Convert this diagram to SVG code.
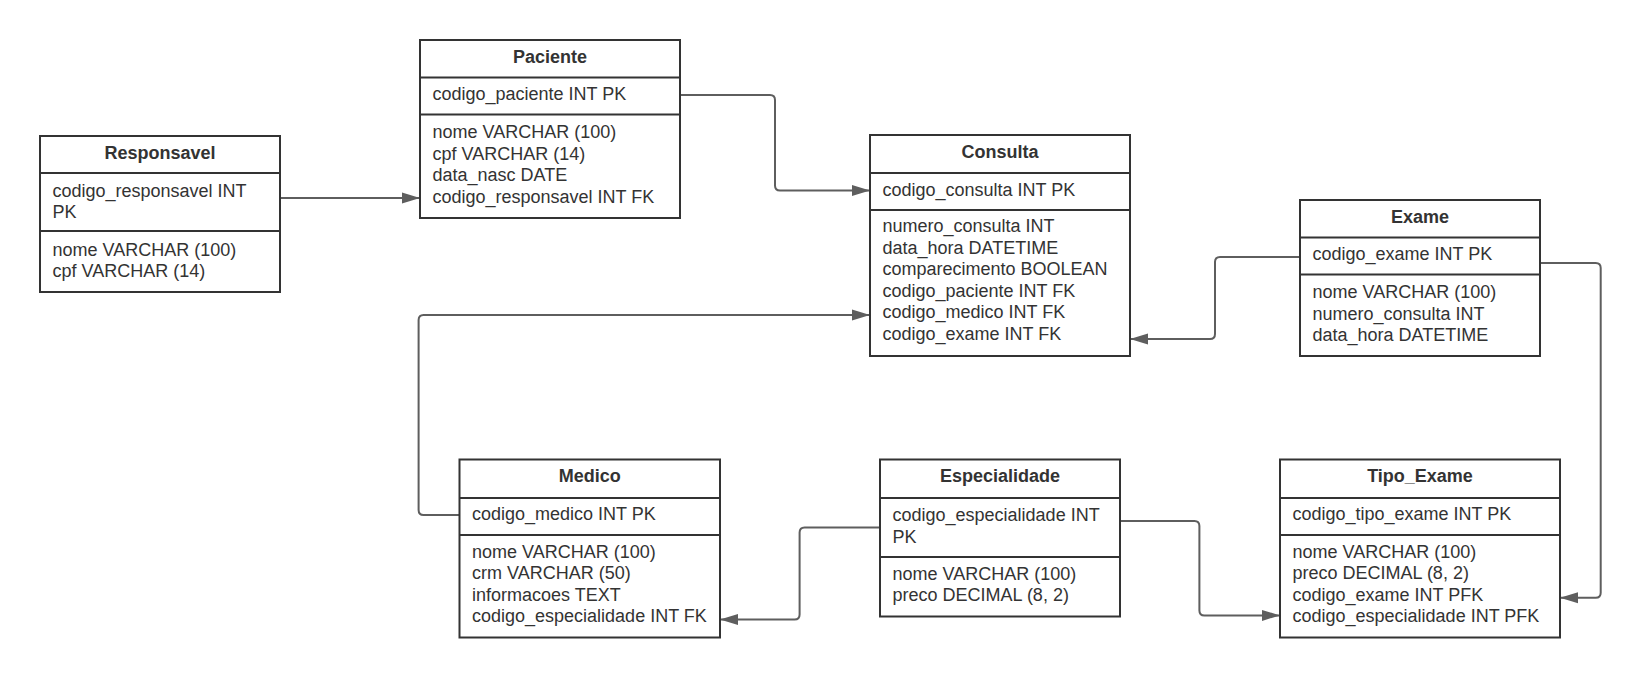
<svg xmlns="http://www.w3.org/2000/svg" width="1641" height="678" viewBox="0 0 1641 678">
  <style>
    .box { fill: #ffffff; stroke: #333333; stroke-width: 2; }
    .sep { stroke: #333333; stroke-width: 2; }
    .title { font-family: "Liberation Sans", Arial, sans-serif; font-size: 18px; font-weight: bold; fill: #333333; text-anchor: middle; }
    .attr { font-family: "Liberation Sans", Arial, sans-serif; font-size: 18px; fill: #333333; }
    .link { fill: none; stroke: #5e5e5e; stroke-width: 2; marker-end: url(#arrow); }
  </style>
  <defs>
    <marker id="arrow" markerUnits="userSpaceOnUse" markerWidth="18" markerHeight="12" refX="18" refY="6" orient="auto">
      <path d="M0,0.5 L18,6 L0,11.5 Z" fill="#5e5e5e"/>
    </marker>
  </defs>
  <rect width="1641" height="678" fill="#ffffff"/>

  <!-- relationships -->
  <g id="connectors">
    <path class="link" d="M280,198 H420"/>
    <path class="link" d="M680,95 H770 Q775,95 775,100 V185.5 Q775,190.5 780,190.5 H870"/>
    <path class="link" d="M1300,257 H1220 Q1215,257 1215,262 V334 Q1215,339 1210,339 H1130"/>
    <path class="link" d="M459.5,515 H423.6 Q418.6,515 418.6,510 V320 Q418.6,315 423.6,315 H870"/>
    <path class="link" d="M880,527.5 H804.6 Q799.6,527.5 799.6,532.5 V614.6 Q799.6,619.6 794.6,619.6 H720"/>
    <path class="link" d="M1120,521 H1194.4 Q1199.4,521 1199.4,526 V610.4 Q1199.4,615.4 1204.4,615.4 H1280"/>
    <path class="link" d="M1540,263 H1595.7 Q1600.7,263 1600.7,268 V592.7 Q1600.7,597.7 1595.7,597.7 H1560"/>
  </g>

  <g id="responsavel">
    <rect class="box" x="40" y="136" width="240" height="156"/>
    <line class="sep" x1="40" y1="173" x2="280" y2="173"/>
    <line class="sep" x1="40" y1="231" x2="280" y2="231"/>
    <text class="title" x="160" y="158.5">Responsavel</text>
    <text class="attr" x="52.5" y="196.5">codigo_responsavel INT</text>
    <text class="attr" x="52.5" y="218">PK</text>
    <text class="attr" x="52.5" y="255.5">nome VARCHAR (100)</text>
    <text class="attr" x="52.5" y="277">cpf VARCHAR (14)</text>
  </g>

  <g id="paciente">
    <rect class="box" x="420" y="40" width="260" height="178"/>
    <line class="sep" x1="420" y1="77.5" x2="680" y2="77.5"/>
    <line class="sep" x1="420" y1="114.5" x2="680" y2="114.5"/>
    <text class="title" x="550" y="62.5">Paciente</text>
    <text class="attr" x="432.5" y="100">codigo_paciente INT PK</text>
    <text class="attr" x="432.5" y="138">nome VARCHAR (100)</text>
    <text class="attr" x="432.5" y="159.6">cpf VARCHAR (14)</text>
    <text class="attr" x="432.5" y="181.2">data_nasc DATE</text>
    <text class="attr" x="432.5" y="202.8">codigo_responsavel INT FK</text>
  </g>

  <g id="consulta">
    <rect class="box" x="870" y="135" width="260" height="221"/>
    <line class="sep" x1="870" y1="173" x2="1130" y2="173"/>
    <line class="sep" x1="870" y1="210" x2="1130" y2="210"/>
    <text class="title" x="1000" y="157.5">Consulta</text>
    <text class="attr" x="882.5" y="195.5">codigo_consulta INT PK</text>
    <text class="attr" x="882.5" y="232">numero_consulta INT</text>
    <text class="attr" x="882.5" y="253.6">data_hora DATETIME</text>
    <text class="attr" x="882.5" y="275.2">comparecimento BOOLEAN</text>
    <text class="attr" x="882.5" y="296.8">codigo_paciente INT FK</text>
    <text class="attr" x="882.5" y="318.4">codigo_medico INT FK</text>
    <text class="attr" x="882.5" y="340">codigo_exame INT FK</text>
  </g>

  <g id="exame">
    <rect class="box" x="1300" y="200" width="240" height="156"/>
    <line class="sep" x1="1300" y1="237.6" x2="1540" y2="237.6"/>
    <line class="sep" x1="1300" y1="274.5" x2="1540" y2="274.5"/>
    <text class="title" x="1420" y="222.5">Exame</text>
    <text class="attr" x="1312.5" y="260.3">codigo_exame INT PK</text>
    <text class="attr" x="1312.5" y="298">nome VARCHAR (100)</text>
    <text class="attr" x="1312.5" y="319.6">numero_consulta INT</text>
    <text class="attr" x="1312.5" y="341.2">data_hora DATETIME</text>
  </g>

  <g id="medico">
    <rect class="box" x="459.5" y="459.5" width="260.5" height="178"/>
    <line class="sep" x1="459.5" y1="498" x2="720" y2="498"/>
    <line class="sep" x1="459.5" y1="535" x2="720" y2="535"/>
    <text class="title" x="589.75" y="482">Medico</text>
    <text class="attr" x="472" y="520">codigo_medico INT PK</text>
    <text class="attr" x="472" y="557.5">nome VARCHAR (100)</text>
    <text class="attr" x="472" y="579.1">crm VARCHAR (50)</text>
    <text class="attr" x="472" y="600.7">informacoes TEXT</text>
    <text class="attr" x="472" y="622.3">codigo_especialidade INT FK</text>
  </g>

  <g id="especialidade">
    <rect class="box" x="880" y="459.5" width="240" height="157"/>
    <line class="sep" x1="880" y1="498" x2="1120" y2="498"/>
    <line class="sep" x1="880" y1="557" x2="1120" y2="557"/>
    <text class="title" x="1000" y="482">Especialidade</text>
    <text class="attr" x="892.5" y="521">codigo_especialidade INT</text>
    <text class="attr" x="892.5" y="542.6">PK</text>
    <text class="attr" x="892.5" y="579.5">nome VARCHAR (100)</text>
    <text class="attr" x="892.5" y="601.1">preco DECIMAL (8, 2)</text>
  </g>

  <g id="tipo_exame">
    <rect class="box" x="1280" y="459.5" width="280" height="178"/>
    <line class="sep" x1="1280" y1="498" x2="1560" y2="498"/>
    <line class="sep" x1="1280" y1="535" x2="1560" y2="535"/>
    <text class="title" x="1420" y="482">Tipo_Exame</text>
    <text class="attr" x="1292.5" y="520">codigo_tipo_exame INT PK</text>
    <text class="attr" x="1292.5" y="557.5">nome VARCHAR (100)</text>
    <text class="attr" x="1292.5" y="579.1">preco DECIMAL (8, 2)</text>
    <text class="attr" x="1292.5" y="600.7">codigo_exame INT PFK</text>
    <text class="attr" x="1292.5" y="622.3">codigo_especialidade INT PFK</text>
  </g>
</svg>
